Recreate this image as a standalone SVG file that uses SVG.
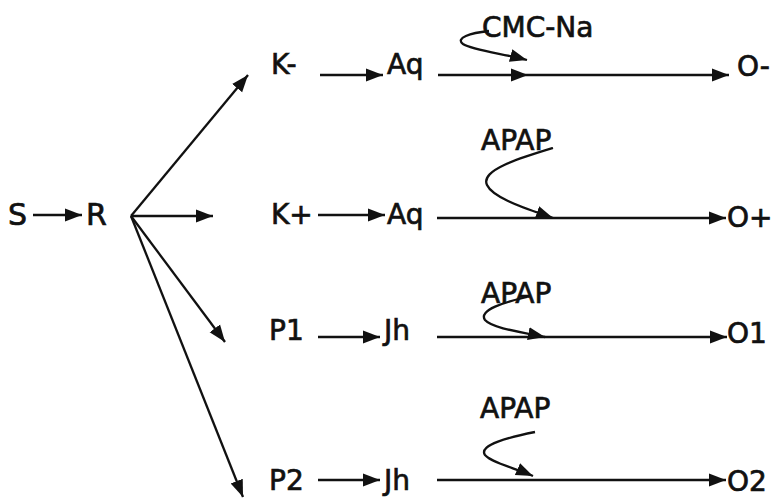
<svg xmlns="http://www.w3.org/2000/svg" width="781" height="499" viewBox="0 0 781 499">
<defs>
<marker id="ah" markerUnits="userSpaceOnUse" markerWidth="20" markerHeight="16" refX="17" refY="8" orient="auto">
<path d="M0,1.5 L17,8 L0,14.5 Z" fill="#111"/>
</marker>
<style>
text{font-family:"DejaVu Sans","Liberation Sans",sans-serif;font-size:28px;fill:#111;stroke:#111;stroke-width:0.7}
.big{font-size:30px}
.c{fill:none;stroke:#111;stroke-width:2.3}
</style>
</defs>
<rect width="781" height="499" fill="#fff"/>
<g id="connectors">
<path class="c" d="M33,215 L82,215" marker-end="url(#ah)"/>
<path class="c" d="M131,216 L248,75" marker-end="url(#ah)"/>
<path class="c" d="M131,216 L213,216" marker-end="url(#ah)"/>
<path class="c" d="M131,216 L225,342" marker-end="url(#ah)"/>
<path class="c" d="M131,216 L243,497" marker-end="url(#ah)"/>
<path class="c" d="M320,75 L383,75" marker-end="url(#ah)"/>
<path class="c" d="M318,215 L385,215" marker-end="url(#ah)"/>
<path class="c" d="M318,337 L380,337" marker-end="url(#ah)"/>
<path class="c" d="M318,480 L380,480" marker-end="url(#ah)"/>
<path class="c" d="M438,75 L528,75 L729,75" marker-mid="url(#ah)" marker-end="url(#ah)"/>
<path class="c" d="M437,218 L726,218" marker-end="url(#ah)"/>
<path class="c" d="M437,337 L727,337" marker-end="url(#ah)"/>
<path class="c" d="M437,480 L726,480" marker-end="url(#ah)"/>
<path class="c" d="M489,31 C470,33 455,38 463,44 C472,50 505,54 527,60" marker-end="url(#ah)"/>
<path class="c" d="M553,148 C520,158 480,170 487,185 C493,198 525,208 553,218" marker-end="url(#ah)"/>
<path class="c" d="M527,297 C505,302 478,310 485,320 C492,328 520,332 545,337" marker-end="url(#ah)"/>
<path class="c" d="M535,432 C510,437 478,445 485,455 C492,463 515,468 533,476" marker-end="url(#ah)"/>
</g>
<g id="node-S"><text class="big" x="8" y="225">S</text></g>
<g id="node-R"><text class="big" x="86" y="225">R</text></g>
<g id="node-Kminus"><text x="271" y="74">K-</text></g>
<g id="node-Kplus"><text x="271" y="224">K+</text></g>
<g id="node-P1"><text x="269" y="340">P1</text></g>
<g id="node-P2"><text x="269" y="490">P2</text></g>
<g id="node-Aq1"><text x="387" y="74">Aq</text></g>
<g id="node-Aq2"><text x="387" y="224">Aq</text></g>
<g id="node-Jh1"><text x="384" y="340">Jh</text></g>
<g id="node-Jh2"><text x="384" y="490">Jh</text></g>
<g id="node-Ominus"><text x="737" y="76">O-</text></g>
<g id="node-Oplus"><text x="727" y="227">O+</text></g>
<g id="node-O1"><text x="727" y="343">O1</text></g>
<g id="node-O2"><text x="727" y="491">O2</text></g>
<g id="label-CMC-Na"><text x="482" y="37">CMC-Na</text></g>
<g id="label-APAP1"><text x="481" y="150">APAP</text></g>
<g id="label-APAP2"><text x="481" y="303">APAP</text></g>
<g id="label-APAP3"><text x="480" y="418">APAP</text></g>
</svg>
